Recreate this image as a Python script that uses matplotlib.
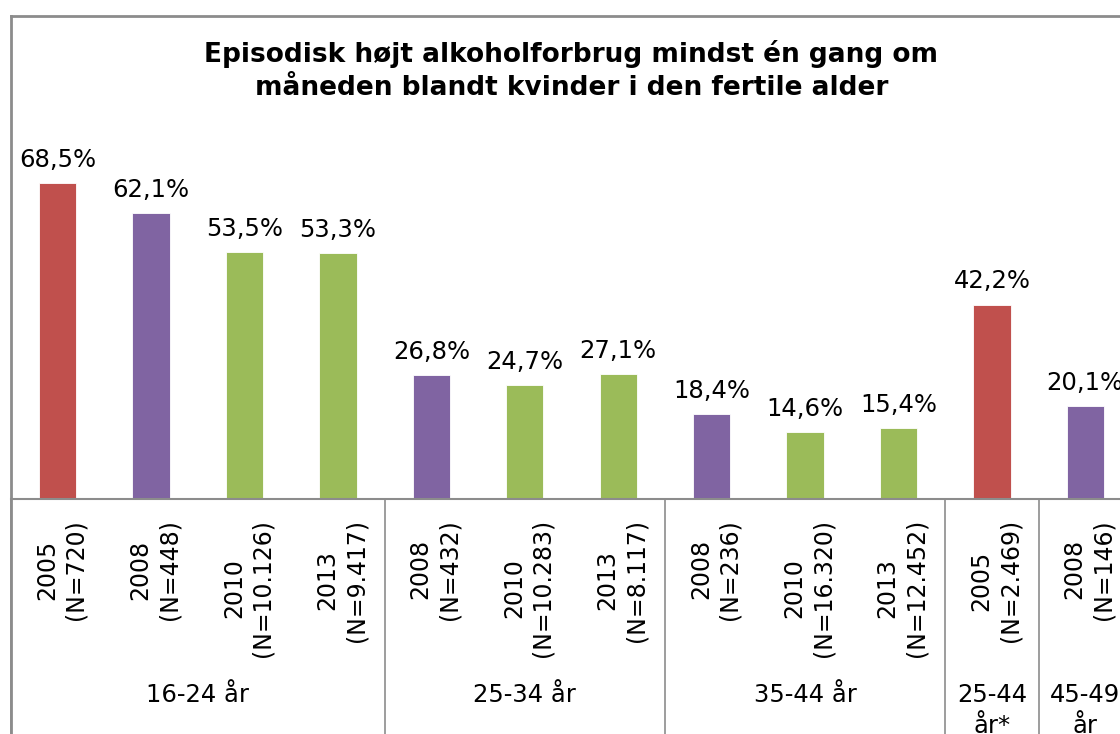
import numpy as np
import matplotlib.pyplot as plt
import matplotlib as mpl
import matplotlib.transforms as mtransforms

mpl.rcParams["font.family"] = "DejaVu Sans"

title = "Episodisk højt alkoholforbrug mindst én gang om\nmåneden blandt kvinder i den fertile alder"

groups = ["16-24 år", "25-34 år", "35-44 år", "25-44\når*", "45-49\når"]
group_years = [
    ["2005", "2008", "2010", "2013"],
    ["2008", "2010", "2013"],
    ["2008", "2010", "2013"],
    ["2005"],
    ["2008"],
]
group_n = [
    ["720", "448", "10.126", "9.417"],
    ["432", "10.283", "8.117"],
    ["236", "16.320", "12.452"],
    ["2.469"],
    ["146"],
]
group_values = [
    [68.5, 62.1, 53.5, 53.3],
    [26.8, 24.7, 27.1],
    [18.4, 14.6, 15.4],
    [42.2],
    [20.1],
]
year_colors = {"2005": "#C0504D", "2008": "#8064A2", "2010": "#9BBB59", "2013": "#9BBB59"}

W, H = 1120, 734
fig = plt.figure(figsize=(W / 100, H / 100), dpi=100)

# plot area in pixels (chart is cut off a little on the right)
x0, x1 = 11, 1132
y_base, y_top = 499, 16
ax = fig.add_axes([x0 / W, (H - y_base) / H, (x1 - x0) / W, (y_base - y_top) / H])

years = [y for g in group_years for y in g]
ns = [n for g in group_n for n in g]
vals = [v for g in group_values for v in g]
x = np.arange(len(vals))
colors = [year_colors[y] for y in years]

ax.bar(x, vals, width=0.4, color=colors, edgecolor="white", linewidth=0.6, zorder=2)
ax.set_xlim(-0.5, len(vals) - 0.5)
ax.set_ylim(0, 104.8)
for s in ax.spines.values():
    s.set_visible(False)
ax.set_yticks([])
ax.set_xticks([])

for xi, v in zip(x, vals):
    ax.annotate(f"{v:.1f}%".replace(".", ","), (xi, v), xytext=(0, 8),
                textcoords="offset points", ha="center", va="bottom", fontsize=17.5)

trans = mtransforms.blended_transform_factory(ax.transData, ax.transAxes)
px = 1 / (y_base - y_top)  # one pixel in axes units (y)

for xi, yr, n in zip(x, years, ns):
    ax.text(xi + 0.04, -20 * px, f"{yr}\n(N={n})", transform=trans, rotation=90,
            ha="center", va="top", multialignment="center", fontsize=17,
            linespacing=1.26)

# group labels and separators
gray = "#8C8C8C"
start = 0
bounds = [-0.5]
for g, yrs in zip(groups, group_years):
    k = len(yrs)
    c = start + (k - 1) / 2
    ax.text(c, -184 * px, g, transform=trans, ha="center", va="top",
            fontsize=17.5, linespacing=1.35)
    start += k
    bounds.append(start - 0.5)

for b in bounds:
    ax.plot([b, b], [0, -(H - y_base) * px], transform=trans, color=gray,
            lw=1.2, clip_on=False)

# baseline, top and left border
ax.plot([0, 1], [0, 0], transform=ax.transAxes, color=gray, lw=1.5, clip_on=False)
ax.plot([0, 1], [1, 1], transform=ax.transAxes, color=gray, lw=2, clip_on=False)
ax.plot([0, 0], [1, -(H - y_base) * px], transform=ax.transAxes, color=gray,
        lw=2, clip_on=False)

fig.text(((x0 + x1) / 2) / W, 1 - 40 / H, title, ha="center", va="top",
         fontsize=19, fontweight="bold", linespacing=1.36)

fig.savefig("out.png", dpi=100)
